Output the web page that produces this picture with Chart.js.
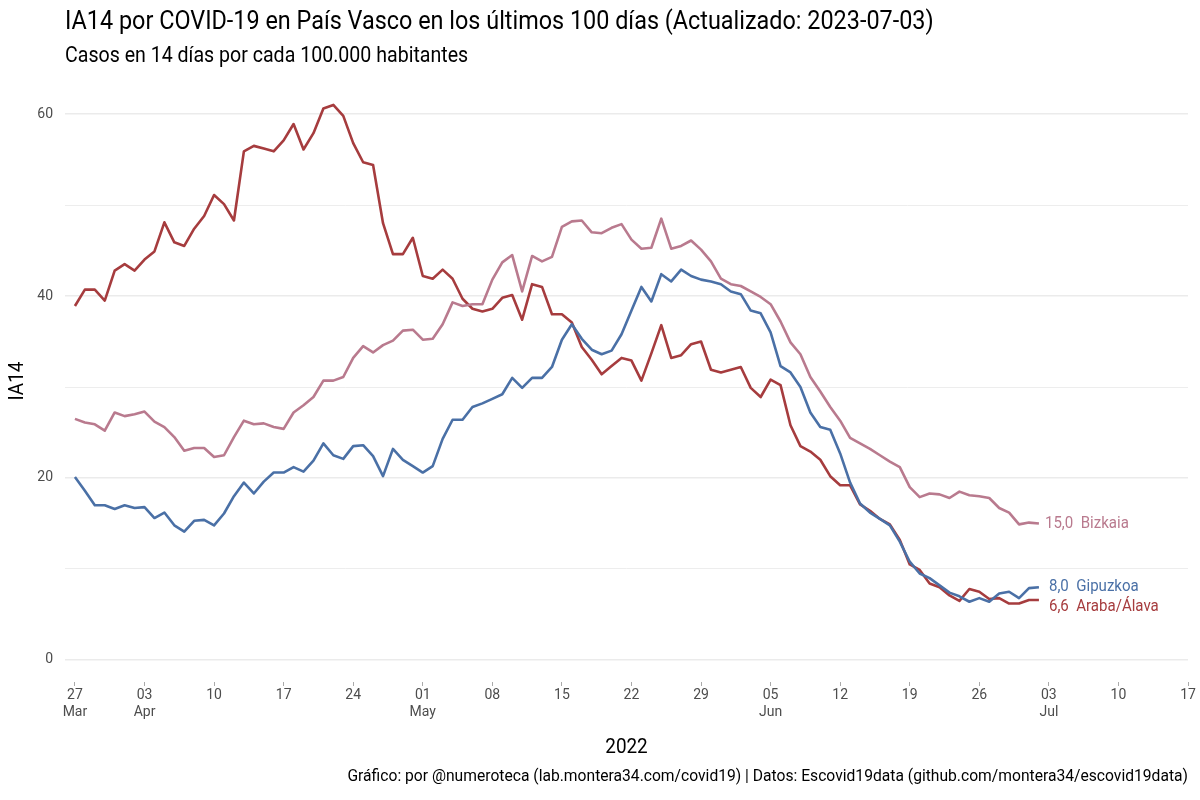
<!DOCTYPE html>
<html>
<head>
<meta charset="utf-8">
<script src="https://cdn.jsdelivr.net/npm/chart.js@4.4.0/dist/chart.umd.min.js"></script>
<style>
  html, body { margin: 0; padding: 0; background: #fff; }
</style>
</head>
<body>
<canvas id="chart" width="1200" height="800"></canvas>
<script>
// day 0 = 2022-03-27, one value per day
const startDate = '2022-03-27';
const seriesNames = ['Bizkaia', 'Gipuzkoa', 'Araba/Álava'];

const bizkaia = [26.5, 26.1, 25.9, 25.2, 27.2, 26.8, 27.0, 27.3, 26.2, 25.6, 24.5, 23.0, 23.3, 23.3, 22.3, 22.5, 24.5, 26.3, 25.9, 26.0,
  25.6, 25.4, 27.2, 28.0, 28.9, 30.7, 30.7, 31.1, 33.2, 34.5, 33.8, 34.6, 35.1, 36.2, 36.3, 35.2, 35.3, 36.9, 39.3, 38.9,
  39.1, 39.1, 41.8, 43.7, 44.5, 40.5, 44.4, 43.8, 44.3, 47.6, 48.2, 48.3, 47.0, 46.9, 47.5, 47.9, 46.2, 45.2, 45.3, 48.5,
  45.2, 45.5, 46.1, 45.1, 43.8, 41.9, 41.3, 41.1, 40.5, 39.9, 39.1, 37.2, 34.9, 33.6, 31.1, 29.5, 27.8, 26.3, 24.4, 23.8,
  23.2, 22.5, 21.8, 21.2, 19.0, 17.9, 18.3, 18.2, 17.8, 18.5, 18.1, 18.0, 17.8, 16.7, 16.2, 14.9, 15.1, 15.0];

const gipuzkoa = [20.1, 18.6, 17.0, 17.0, 16.6, 17.0, 16.7, 16.8, 15.6, 16.2, 14.8, 14.1, 15.3, 15.4, 14.8, 16.1, 18.0, 19.5, 18.3, 19.6,
  20.6, 20.6, 21.2, 20.7, 21.9, 23.8, 22.5, 22.1, 23.5, 23.6, 22.4, 20.2, 23.2, 22.0, 21.3, 20.6, 21.3, 24.3, 26.4, 26.4,
  27.8, 28.2, 28.7, 29.2, 31.0, 29.9, 31.0, 31.0, 32.2, 35.2, 36.9, 35.3, 34.1, 33.6, 34.0, 35.8, 38.4, 41.0, 39.4, 42.4,
  41.6, 42.9, 42.2, 41.8, 41.6, 41.3, 40.5, 40.2, 38.4, 38.1, 36.0, 32.3, 31.6, 30.0, 27.2, 25.6, 25.3, 22.7, 19.5, 17.2,
  16.2, 15.5, 14.8, 13.0, 10.8, 9.5, 9.0, 8.2, 7.4, 7.0, 6.4, 6.8, 6.4, 7.3, 7.5, 6.8, 7.9, 8.0];

const araba = [38.9, 40.7, 40.7, 39.5, 42.8, 43.5, 42.8, 44.0, 44.9, 48.1, 45.9, 45.5, 47.4, 48.8, 51.1, 50.1, 48.3, 55.9, 56.5, 56.2,
  55.9, 57.1, 58.9, 56.1, 57.9, 60.6, 61.0, 59.8, 56.8, 54.7, 54.4, 48.0, 44.6, 44.6, 46.4, 42.2, 41.9, 42.9, 41.9, 39.7,
  38.6, 38.3, 38.6, 39.8, 40.1, 37.4, 41.3, 41.0, 38.0, 38.0, 37.1, 34.4, 33.0, 31.4, 32.3, 33.2, 32.9, 30.7, 33.7, 36.8,
  33.2, 33.5, 34.7, 35.0, 31.9, 31.6, 31.9, 32.2, 29.9, 28.9, 30.8, 30.2, 25.8, 23.5, 22.9, 22.0, 20.2, 19.2, 19.2, 17.1,
  16.4, 15.5, 14.9, 13.2, 10.5, 9.9, 8.4, 8.0, 7.1, 6.5, 7.8, 7.5, 6.7, 6.8, 6.2, 6.2, 6.6, 6.6];

// weekly ticks starting on day 0
const tickDays = ['27', '03', '10', '17', '24', '01', '08', '15', '22', '29', '05', '12', '19', '26', '03', '10', '17'];
const tickMonths = ['Mar', 'Apr', '', '', '', 'May', '', '', '', '', 'Jun', '', '', '', 'Jul', '', ''];
const yTicks = [0, 10, 20, 30, 40, 50, 60];
const yLabelled = [0, 20, 40, 60];

const colors = ['#b97a8e', '#4a70a6', '#a63c3e'];

function toPoints(arr) {
  return arr.map((v, i) => ({ x: i, y: v }));
}

const textPlugin = {
  id: 'texts',
  afterDraw(chart) {
    const { ctx, scales, chartArea } = chart;
    // roboto squeezed sideways to look like the condensed face of the original
    function txt(s, px, py, size, squeeze, color, align, rot) {
      ctx.save();
      ctx.font = size + 'px Roboto';
      ctx.fillStyle = color;
      ctx.textBaseline = 'middle';
      ctx.textAlign = align;
      ctx.translate(px, py);
      if (rot) ctx.rotate(rot);
      ctx.scale(squeeze, 1);
      ctx.fillText(s, 0, 0);
      ctx.restore();
    }
    txt('IA14 por COVID-19 en País Vasco en los últimos 100 días (Actualizado: 2023-07-03)', 65, 22, 26, 0.9, '#000', 'left');
    txt('Casos en 14 días por cada 100.000 habitantes', 65, 56, 22, 0.89, '#000', 'left');
    txt('2022', (chartArea.left + chartArea.right) / 2, 748, 21, 0.9, '#000', 'center');
    txt('IA14', 18, (chartArea.top + chartArea.bottom) / 2, 21, 0.9, '#000', 'center', -Math.PI / 2);
    txt('Gráfico: por @numeroteca (lab.montera34.com/covid19) | Datos: Escovid19data (github.com/montera34/escovid19data)',
      1188, 777, 17, 0.92, '#000', 'right');

    // end labels
    const last = bizkaia.length - 1;
    const xs = scales.x.getPixelForValue(last);
    const ends = [
      [bizkaia[last], 0, 6, 1],
      [gipuzkoa[last], 1, 10, 0],
      [araba[last], 2, 10, 7]
    ];
    ends.forEach(([v, k, dx, dy]) => {
      const label = v.toFixed(1).replace('.', ',') + '  ' + seriesNames[k];
      txt(label, xs + dx, scales.y.getPixelForValue(v) + dy, 16, 0.94, colors[k], 'left');
    });
  }
};

new Chart(document.getElementById('chart'), {
  type: 'line',
  data: {
    datasets: [
      { label: seriesNames[0], data: toPoints(bizkaia), borderColor: colors[0] },
      { label: seriesNames[1], data: toPoints(gipuzkoa), borderColor: colors[1] },
      { label: seriesNames[2], data: toPoints(araba), borderColor: colors[2] }
    ]
  },
  options: {
    responsive: false,
    animation: false,
    devicePixelRatio: 1,
    layout: { padding: { top: 80, left: 0, right: 12, bottom: 0 } },
    elements: {
      line: { borderWidth: 2.6, tension: 0, borderJoinStyle: 'round', fill: false },
      point: { radius: 0 }
    },
    plugins: {
      legend: { display: false },
      tooltip: { enabled: false }
    },
    scales: {
      x: {
        type: 'linear',
        min: -1,
        max: 112,
        afterFit: s => { s.height = 118; },
        afterBuildTicks: s => { s.ticks = tickDays.map((d, i) => ({ value: i * 7 })); },
        ticks: {
          autoSkip: false,
          maxRotation: 0,
          padding: 1,
          color: '#4d4d4d',
          font: { family: 'Roboto', size: 14 },
          callback: (v, i) => tickMonths[i] ? [tickDays[i], tickMonths[i]] : tickDays[i]
        },
        grid: { drawOnChartArea: false, drawTicks: true, tickLength: 4, color: '#aaaaaa', lineWidth: 1 },
        border: { display: false }
      },
      y: {
        min: -2.42,
        max: 63.74,
        afterFit: s => { s.width = 65; },
        afterBuildTicks: s => { s.ticks = yTicks.map(v => ({ value: v })); },
        ticks: {
          padding: 12,
          color: '#4d4d4d',
          font: { family: 'Roboto', size: 14 },
          callback: v => yLabelled.includes(v) ? String(v) : ''
        },
        grid: {
          drawTicks: false,
          color: '#ebebeb',
          lineWidth: c => (c.tick && yLabelled.includes(c.tick.value)) ? 1.6 : 0.9
        },
        border: { display: false }
      }
    }
  },
  plugins: [textPlugin]
});
</script>
</body>
</html>
